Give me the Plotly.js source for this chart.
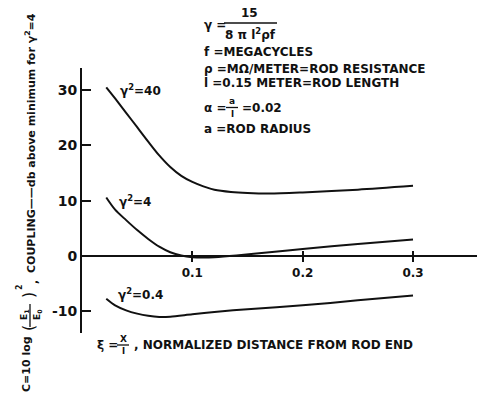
<!DOCTYPE html>
<html>
<head>
<meta charset="utf-8">
<script src="https://cdn.plot.ly/plotly-3.0.1.min.js"></script>
<style>html,body{margin:0;padding:0;background:#fff;}#chart{width:478px;height:398px;}</style>
</head>
<body>
<div id="chart"></div>
<script>
// ---- data ----
const xi40 = [0.022, 0.03, 0.04, 0.05, 0.06, 0.07, 0.08, 0.09, 0.10, 0.11, 0.12, 0.135, 0.15, 0.17, 0.20, 0.25, 0.30];
const c40  = [30.5, 28.5, 25.9, 23.3, 20.7, 18.2, 16.1, 14.5, 13.4, 12.6, 12.0, 11.6, 11.4, 11.3, 11.5, 12.0, 12.7];
const xi4  = [0.022, 0.03, 0.04, 0.05, 0.06, 0.07, 0.08, 0.09, 0.10, 0.11, 0.12, 0.14, 0.17, 0.20, 0.25, 0.30];
const c4   = [10.6, 8.4, 6.5, 4.7, 3.1, 1.7, 0.7, 0.1, -0.2, -0.25, -0.2, 0.1, 0.7, 1.3, 2.2, 3.0];
const xi04 = [0.022, 0.03, 0.04, 0.05, 0.06, 0.07, 0.08, 0.10, 0.12, 0.15, 0.20, 0.25, 0.30];
const c04  = [-7.7, -8.9, -9.8, -10.4, -10.8, -11.0, -10.95, -10.5, -10.1, -9.6, -8.9, -8.0, -7.1];
const curveLabels = ['γ<sup>2</sup>=40', 'γ<sup>2</sup>=4', 'γ<sup>2</sup>=0.4'];
const xTickVals = [0.1, 0.2, 0.3];
const xTickText = ['0.1', '0.2', '0.3'];
const yTickVals = [-10, 0, 10, 20, 30];
const yTickText = ['-10', '0', '10', '20', '30'];

// ---- layout geometry ----
const L = 82, T = 68, W = 395, H = 265;
const YMIN = -13.9, YMAX = 34.0;
const px = x => (x - L) / W;
const py = y => (T + H - y) / H;
const FONT = 'DejaVu Sans';
const BLACK = '#111';
const f = (size, weight) => ({family: FONT, size: size, color: BLACK, weight: weight || 'bold'});

function ann(text, x, y, opts) {
  return Object.assign({
    text: text, xref: 'paper', yref: 'paper', x: px(x), y: py(y),
    showarrow: false, xanchor: 'left', yanchor: 'middle',
    font: f(12)
  }, opts || {});
}
function bar(x0, y0, x1, y1) {
  return {type: 'line', xref: 'paper', yref: 'paper', x0: px(x0), y0: py(y0), x1: px(x1), y1: py(y1),
          line: {color: BLACK, width: 1.3}};
}

const lineStyle = {color: BLACK, width: 2, shape: 'spline', smoothing: 0.8};
const traces = [
  {x: xi40, y: c40, mode: 'lines', line: lineStyle, name: curveLabels[0], hoverinfo: 'skip'},
  {x: xi4, y: c4, mode: 'lines', line: lineStyle, name: curveLabels[1], hoverinfo: 'skip'},
  {x: xi04, y: c04, mode: 'lines', line: lineStyle, name: curveLabels[2], hoverinfo: 'skip'}
];

const annotations = [
  // curve labels (data coordinates)
  {text: curveLabels[0], xref: 'x', yref: 'y', x: 0.033, y: 30.0, showarrow: false, xanchor: 'left', yanchor: 'middle', font: f(12)},
  {text: curveLabels[1], xref: 'x', yref: 'y', x: 0.032, y: 9.9, showarrow: false, xanchor: 'left', yanchor: 'middle', font: f(12)},
  {text: curveLabels[2], xref: 'x', yref: 'y', x: 0.031, y: -6.8, showarrow: false, xanchor: 'left', yanchor: 'middle', font: f(12)},

  // definitions block
  ann('γ =', 202, 25),
  ann('15', 249, 13, {xanchor: 'center'}),
  ann('8 π l<sup>2</sup>ρf', 250, 34, {xanchor: 'center'}),
  ann('f =MEGACYCLES', 202, 52),
  ann('ρ =MΩ/METER=ROD RESISTANCE', 202, 69),
  ann('l =0.15 METER=ROD LENGTH', 202, 83),
  ann('α =', 202, 108),
  ann('a', 232, 101, {xanchor: 'center', font: f(9)}),
  ann('l', 232, 114, {xanchor: 'center', font: f(9)}),
  ann('=0.02', 240, 108),
  ann('a =ROD RADIUS', 202, 129),

  // x axis title
  ann('ξ =', 95, 345),
  ann('X', 123, 339, {xanchor: 'center', font: f(9)}),
  ann('l', 123, 351, {xanchor: 'center', font: f(9)}),
  ann(', NORMALIZED DISTANCE FROM ROD END', 132, 345, {font: f(12)}),

  // y axis title (rotated pieces)
  ann('C=10 log', 26, 364, {xanchor: 'center', textangle: -90, font: f(11)}),
  ann('(', 28, 328, {xanchor: 'center', textangle: -90, font: f(16, 'normal')}),
  ann('E<sub>1</sub>', 24, 315, {xanchor: 'center', textangle: -90, font: f(9)}),
  ann('E<sub>0</sub>', 37, 315, {xanchor: 'center', textangle: -90, font: f(9)}),
  ann(')', 28, 295, {xanchor: 'center', textangle: -90, font: f(16, 'normal')}),
  ann('2', 19, 287, {xanchor: 'center', textangle: -90, font: f(8)}),
  ann(',', 33, 282, {xanchor: 'center', textangle: -90, font: f(11)}),
  ann('COUPLING——db above minimum for γ<sup>2</sup>=4', 30, 143, {xanchor: 'center', textangle: -90, font: f(11)})
];

const shapes = [
  bar(224, 23, 277, 23),       // 15 / (8πl²ρf)
  bar(226, 107.5, 238, 107.5), // a / l
  bar(117, 345, 129, 345),     // X / l
  bar(30, 304, 30, 327)        // E1 / E0
];

const layout = {
  width: 478, height: 398,
  margin: {l: L, r: 478 - L - W, t: T, b: 398 - T - H},
  paper_bgcolor: '#fff', plot_bgcolor: '#fff',
  showlegend: false,
  font: {family: FONT, color: BLACK},
  xaxis: {
    range: [0, 0.358], anchor: 'free', position: (0 - YMIN) / (YMAX - YMIN),
    showline: true, linecolor: BLACK, linewidth: 2,
    showgrid: false, zeroline: false,
    tickmode: 'array', tickvals: xTickVals, ticktext: xTickText,
    ticks: 'outside', ticklen: 5, tickwidth: 1.5, tickcolor: BLACK,
    tickfont: f(12)
  },
  xaxis2: {
    range: [0, 0.358], overlaying: 'x', anchor: 'free', position: (0 - YMIN) / (YMAX - YMIN),
    showline: false, showgrid: false, zeroline: false, showticklabels: false,
    tickmode: 'array', tickvals: xTickVals,
    ticks: 'inside', ticklen: 5, tickwidth: 1.5, tickcolor: BLACK
  },
  yaxis: {
    range: [YMIN, YMAX],
    showline: true, linecolor: BLACK, linewidth: 2,
    showgrid: false, zeroline: false,
    tickmode: 'array', tickvals: yTickVals, ticktext: yTickText,
    ticks: 'inside', ticklen: 9, tickwidth: 1.5, tickcolor: BLACK,
    tickfont: f(14)
  },
  annotations: annotations,
  shapes: shapes
};

traces.push({x: [0.2], y: [0], xaxis: 'x2', mode: 'markers', marker: {opacity: 0}, hoverinfo: 'skip', showlegend: false});

Plotly.newPlot('chart', traces, layout, {displayModeBar: false});
</script>
</body>
</html>
